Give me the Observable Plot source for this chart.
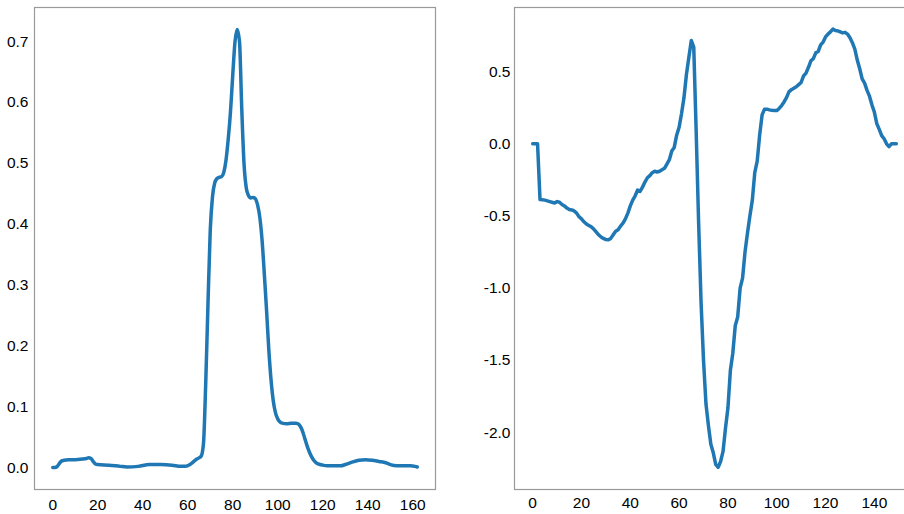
<!DOCTYPE html>
<html>
<head>
<meta charset="utf-8">
<script src="https://cdn.jsdelivr.net/npm/d3@7"></script>
<script src="https://cdn.jsdelivr.net/npm/@observablehq/plot@0.6"></script>
<style>
  html, body { margin: 0; padding: 0; background: #fff; }
  #wrap { position: relative; width: 904px; height: 514px; overflow: hidden; }
  #left { position: absolute; left: 0; top: 0; width: 450px; height: 514px; }
  #right { position: absolute; left: 450px; top: 0; width: 470px; height: 514px; }
  #wrap svg { max-width: none !important; }
</style>
</head>
<body>
<div id="wrap"><div id="left"></div><div id="right"></div></div>
<script>
// Left panel series
const leftX = [0,1,2,3,4,5,7,10,13,15,16,17,18,19,20,25,30,33,38,43,48,53,57,59,61,63,64,65,66,67,68,69,70,71,72,73,74,75,76,77,78,79,80,81,82,83,84,85,86,87,88,89,90,91,92,93,94,95,96,97,98,99,100,101,102,104,106,108,109,110,111,112,113,114,115,116,117,118,120,122,125,128,130,133,136,139,142,145,148,150,153,156,159,161,162];
const leftY = [0.000,0.000,0.002,0.007,0.011,0.012,0.013,0.013,0.014,0.015,0.016,0.015,0.010,0.006,0.005,0.004,0.002,0.001,0.002,0.005,0.005,0.004,0.002,0.002,0.005,0.011,0.014,0.016,0.019,0.040,0.140,0.270,0.390,0.445,0.468,0.475,0.477,0.478,0.485,0.505,0.540,0.585,0.645,0.700,0.720,0.700,0.590,0.500,0.460,0.447,0.443,0.444,0.442,0.432,0.412,0.375,0.320,0.260,0.195,0.145,0.110,0.090,0.080,0.075,0.073,0.072,0.073,0.073,0.072,0.068,0.060,0.048,0.036,0.026,0.018,0.012,0.008,0.006,0.004,0.003,0.003,0.003,0.005,0.009,0.012,0.013,0.012,0.010,0.008,0.005,0.003,0.003,0.003,0.002,0.001];

// Right panel series
const rightX = [0,2,3,5,7,9,10,11,12,13,14,15,16,17,18,19,20,21,22,23,24,25,26,27,28,29,30,31,32,33,34,35,36,37,38,39,40,41,42,43,44,45,46,47,48,49,50,51,52,53,54,55,56,57,58,59,60,61,62,63,64,65,66,67,68,69,70,71,72,73,74,75,76,77,78,79,80,81,82,83,84,85,86,87,88,89,90,91,92,93,94,95,96,97,98,99,100,101,102,103,104,105,106,107,108,109,110,111,112,113,114,115,116,117,118,119,120,121,122,123,124,125,126,127,128,129,130,131,132,133,134,135,136,137,138,139,140,141,142,143,144,145,146,147,148,149];
const rightY = [0,0,-0.385,-0.39,-0.40,-0.41,-0.40,-0.405,-0.42,-0.43,-0.445,-0.455,-0.458,-0.465,-0.48,-0.505,-0.52,-0.54,-0.555,-0.565,-0.575,-0.59,-0.61,-0.63,-0.645,-0.655,-0.663,-0.665,-0.655,-0.63,-0.605,-0.595,-0.57,-0.55,-0.52,-0.48,-0.43,-0.39,-0.36,-0.32,-0.33,-0.30,-0.265,-0.235,-0.22,-0.2,-0.19,-0.195,-0.19,-0.18,-0.17,-0.14,-0.11,-0.05,-0.025,0.06,0.115,0.21,0.32,0.48,0.60,0.715,0.67,0.08,-0.55,-1.1,-1.5,-1.8,-1.95,-2.08,-2.14,-2.22,-2.24,-2.2,-2.13,-1.97,-1.83,-1.57,-1.45,-1.26,-1.2,-1.0,-0.93,-0.75,-0.62,-0.5,-0.39,-0.2,-0.12,0.06,0.2,0.24,0.24,0.235,0.232,0.23,0.23,0.245,0.265,0.29,0.32,0.36,0.375,0.385,0.395,0.41,0.425,0.47,0.49,0.53,0.575,0.59,0.63,0.64,0.685,0.705,0.74,0.76,0.775,0.795,0.785,0.782,0.775,0.768,0.772,0.76,0.735,0.70,0.655,0.58,0.52,0.45,0.42,0.37,0.33,0.27,0.22,0.14,0.10,0.057,0.035,0.0,-0.02,0.0,0.0,0.0];

// Tick values
const leftXTicks = [0,20,40,60,80,100,120,140,160];
const leftYTicks = [0,0.1,0.2,0.3,0.4,0.5,0.6,0.7];
const rightXTicks = [0,20,40,60,80,100,120,140];
const rightYTicks = [-2,-1.5,-1,-0.5,0,0.5];

const lineColor = "#1f77b4";
const frameColor = "#999999";
const fmt = d => d.toFixed(1);
const style = {fontSize: "15.5px", fontFamily: "'Liberation Sans', Arial, sans-serif", color: "#000", background: "transparent", maxWidth: "none"};

const leftData = leftX.map((x, i) => ({x, y: leftY[i]}));
const rightData = rightX.map((x, i) => ({x, y: rightY[i]}));

const leftPlot = Plot.plot({
  width: 450, height: 514,
  marginLeft: 34, marginRight: 15, marginTop: 7, marginBottom: 25,
  style,
  x: {domain: [-8.1, 170.1]},
  y: {domain: [-0.036, 0.756]},
  marks: [
    Plot.frame({stroke: frameColor, strokeWidth: 1.2}),
    Plot.axisX({ticks: leftXTicks, tickSize: 0, tickPadding: 9, label: null}),
    Plot.axisY({ticks: leftYTicks, tickSize: 0, tickPadding: 6, tickFormat: fmt, label: null}),
    Plot.line(leftData, {x: "x", y: "y", stroke: lineColor, strokeWidth: 3.5, curve: "monotone-x"})
  ]
});
document.getElementById("left").appendChild(leftPlot);

const rightPlot = Plot.plot({
  width: 470, height: 514,
  marginLeft: 64, marginRight: 6, marginTop: 7, marginBottom: 25,
  style,
  x: {domain: [-7.45, 156.45]},
  y: {domain: [-2.394, 0.944]},
  marks: [
    Plot.frame({stroke: frameColor, strokeWidth: 1.2}),
    Plot.axisX({ticks: rightXTicks, tickSize: 0, tickPadding: 7, label: null}),
    Plot.axisY({ticks: rightYTicks, tickSize: 0, tickPadding: 4, tickFormat: fmt, label: null}),
    Plot.line(rightData, {x: "x", y: "y", stroke: lineColor, strokeWidth: 3.5, strokeLinejoin: "round"})
  ]
});
document.getElementById("right").appendChild(rightPlot);
</script>
</body>
</html>
